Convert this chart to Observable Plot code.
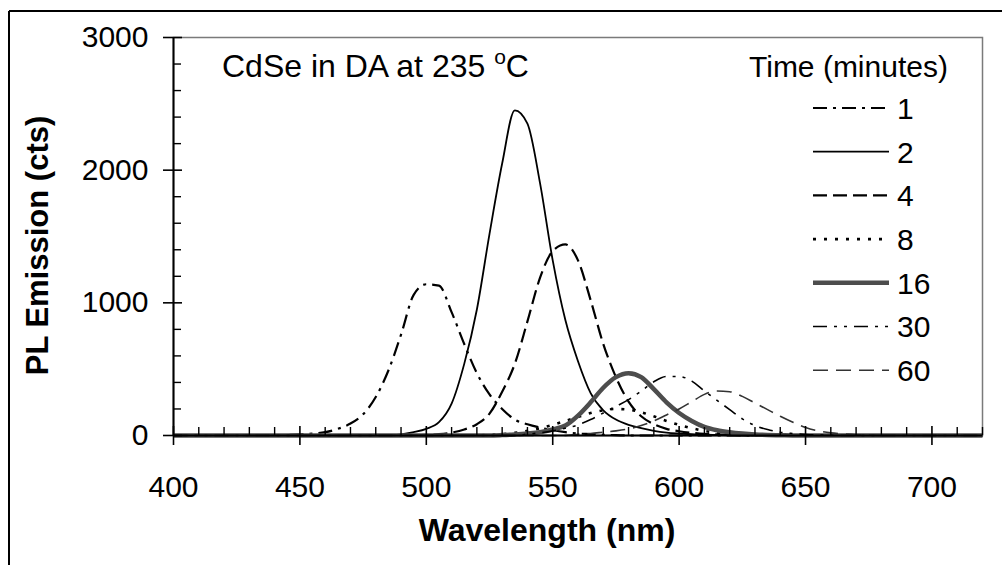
<!DOCTYPE html>
<html><head><meta charset="utf-8">
<script src="https://cdn.jsdelivr.net/npm/d3@7"></script>
<script src="https://cdn.jsdelivr.net/npm/@observablehq/plot@0.6"></script>
<style>html,body{margin:0;padding:0;background:#fff;overflow:hidden;} #chart{width:1002px;height:565px;}</style>
</head><body><div id="chart"></div>
<script>
// ---- data ----
const wavelength = [
  400,405,410,415,420,425,430,435,440,445,450,455,460,
  465,470,475,480,485,490,495,500,505,510,515,520,525,
  530,535,540,545,550,555,560,565,570,575,580,585,590,
  595,600,605,610,615,620,625,630,635,640,645,650,655,
  660,665,670,675,680,685,690,695,700,705,710,715,720];

const times = ["1","2","4","8","16","30","60"];

const t1 = [
  0,0,0,0,0,0,0,0,2,4,8,15,25,
  50,90,160,290,490,760,1060,1140,1130,930,690,470,310,
  200,120,85,60,40,25,15,10,5,3,0,0,0,
  0,0,0,0,0,0,0,0,0,0,0,0,0,
  0,0,0,0,0,0,0,0,0,0,0,0,0];
const t2 = [
  0,0,0,0,0,0,0,0,0,0,0,0,0,
  0,0,0,0,2,8,25,50,100,240,540,950,1520,
  2050,2450,2350,1900,1320,870,560,320,190,120,80,55,35,
  22,15,10,6,4,2,0,0,0,0,0,0,0,
  0,0,0,0,0,0,0,0,0,0,0,0,0];
const t4 = [
  0,0,0,0,0,0,0,0,0,0,0,0,0,
  0,0,0,0,0,0,2,5,10,22,45,85,165,
  330,540,860,1190,1390,1440,1320,1020,690,440,255,145,85,
  50,32,20,12,8,5,2,0,0,0,0,0,0,
  0,0,0,0,0,0,0,0,0,0,0,0,0];
const t8 = [
  0,0,0,0,0,0,0,0,0,0,0,0,0,
  0,0,0,0,0,0,0,0,0,0,0,0,5,
  10,20,35,55,80,110,140,170,190,200,195,175,145,
  110,80,55,35,22,12,7,4,0,0,0,0,0,
  0,0,0,0,0,0,0,0,0,0,0,0,0];
const t16 = [
  0,0,0,0,0,0,0,0,0,0,0,0,0,
  0,0,0,0,0,0,0,0,0,0,0,0,0,
  3,8,15,25,45,75,150,250,360,440,470,440,350,
  250,170,110,65,40,25,15,8,4,2,0,0,0,
  0,0,0,0,0,0,0,0,0,0,0,0,0];
const t30 = [
  0,0,0,0,0,0,0,0,0,0,0,0,0,
  0,0,0,0,0,0,0,0,0,0,0,0,0,
  0,0,10,20,35,55,80,120,170,220,270,335,405,
  445,445,410,335,265,195,125,75,45,25,15,8,4,
  2,0,0,0,0,0,0,0,0,0,0,0,0];
const t60 = [
  0,0,0,0,0,0,0,0,0,0,0,0,0,
  0,0,0,0,0,0,0,0,0,0,0,0,0,
  0,0,0,0,0,0,10,15,25,35,50,75,110,
  155,200,255,310,335,330,295,245,195,145,100,60,35,
  20,12,6,3,0,0,0,0,0,0,0,0,0];

const xMajor = [400,450,500,550,600,650,700];
const xMinor = [410,420,430,440,460,470,480,490,510,520,530,540,560,570,580,590,
                610,620,630,640,660,670,680,690,710,720];
const yMajor = [0,1000,2000,3000];
const yMinor = [200,400,600,800,1200,1400,1600,1800,2200,2400,2600,2800];

const xTitle = "Wavelength (nm)";
const yTitle = "PL Emission (cts)";
const legendTitle = "Time (minutes)";
const annotation = ["CdSe in DA at 235 ", "o", "C"];

// ---- styles ----
const seriesValues = [t1, t2, t4, t8, t16, t30, t60];
const styles = [
  {stroke: "#000", width: 2.2, dash: "14,6,3,6"},
  {stroke: "#000", width: 1.8, dash: null},
  {stroke: "#000", width: 2.2, dash: "14,6"},
  {stroke: "#000", width: 2.6, dash: "3,8"},
  {stroke: "#4d4d4d", width: 4.5, dash: null},
  {stroke: "#000", width: 1.6, dash: "14,7,3,7,3,7"},
  {stroke: "#333", width: 1.6, dash: "15,8"}
];

const rows = times.flatMap((t, i) =>
  wavelength.map((w, j) => ({time: t, wl: w, v: seriesValues[i][j]})));

const lineMarks = times.map((t, i) =>
  Plot.line(rows.filter(d => d.time === t), {
    x: "wl", y: "v", curve: "monotone-x",
    stroke: styles[i].stroke, strokeWidth: styles[i].width,
    strokeDasharray: styles[i].dash, strokeLinecap: "butt", strokeLinejoin: "round"
  }));

const x0 = xMajor[0];

const plot = Plot.plot({
  width: 1002, height: 565,
  marginLeft: 173, marginRight: 20, marginTop: 37, marginBottom: 130,
  x: {domain: [400, 720]},
  y: {domain: [0, 3000]},
  style: {fontFamily: "'Liberation Sans', Arial, sans-serif", background: "#fff", color: "#000"},
  marks: [
    Plot.frame({stroke: "#7a7a7a", strokeWidth: 1.5}),
    ...lineMarks,
    Plot.ruleY([0], {stroke: "#000", strokeWidth: 2}),
    Plot.ruleX([x0], {stroke: "#000", strokeWidth: 2}),
    Plot.ruleX(xMajor, {x: d => d, y1: 0, y2: 0, insetTop: -9, insetBottom: -10, stroke: "#000", strokeWidth: 1.6}),
    Plot.ruleX(xMinor, {x: d => d, y1: 0, y2: 0, insetTop: -8, stroke: "#000", strokeWidth: 1.4}),
    Plot.ruleY(yMajor, {y: d => d, x1: x0, x2: x0, insetLeft: -10, insetRight: -9, stroke: "#000", strokeWidth: 1.6}),
    Plot.ruleY(yMinor, {y: d => d, x1: x0, x2: x0, insetRight: -8, stroke: "#000", strokeWidth: 1.4}),
    Plot.axisX({ticks: xMajor, tickSize: 0, tickPadding: 40, fontSize: 30, tickFormat: d => String(d), label: null}),
    Plot.axisY({ticks: yMajor, tickSize: 0, tickPadding: 25, fontSize: 30, tickFormat: d => String(d), label: null}),
    Plot.text([xTitle], {text: d => d, frameAnchor: "bottom", lineAnchor: "middle", textAnchor: "middle", dx: -31, dy: 95, fontSize: 32, fontWeight: "bold"}),
    Plot.text([yTitle], {text: d => d, frameAnchor: "left", lineAnchor: "middle", textAnchor: "middle", dx: -135, dy: 9, rotate: -90, fontSize: 31, fontWeight: "bold"})
  ]
});

document.getElementById("chart").appendChild(plot);

// ---- decorations: outer border, annotation, legend ----
const svg = d3.select(plot);
const deco = svg.append("g").attr("text-anchor", "start");
deco.append("line").attr("x1", 9).attr("y1", 11).attr("x2", 1002).attr("y2", 11).attr("stroke", "#000").attr("stroke-width", 2);
deco.append("line").attr("x1", 9).attr("y1", 11).attr("x2", 9).attr("y2", 565).attr("stroke", "#000").attr("stroke-width", 2);

const ann = deco.append("text").attr("x", 222).attr("y", 77).attr("font-size", 32).attr("fill", "#000").attr("text-anchor", "start");
ann.append("tspan").text(annotation[0]);
ann.append("tspan").attr("font-size", 21).attr("dy", -13).text(annotation[1]);
ann.append("tspan").attr("dy", 13).text(annotation[2]);

const lg = deco.append("g").attr("font-size", 30).attr("fill", "#000").attr("text-anchor", "start");
lg.append("text").attr("x", 749).attr("y", 77).text(legendTitle);
times.forEach((t, i) => {
  const y = 108 + i * 43.7;
  lg.append("line").attr("x1", 813).attr("x2", 889).attr("y1", y).attr("y2", y)
    .attr("stroke", styles[i].stroke).attr("stroke-width", styles[i].width)
    .attr("stroke-dasharray", styles[i].dash).attr("stroke-linecap", "butt");
  lg.append("text").attr("x", 897).attr("y", y).attr("dy", "0.36em").text(t);
});
</script>
</body></html>
